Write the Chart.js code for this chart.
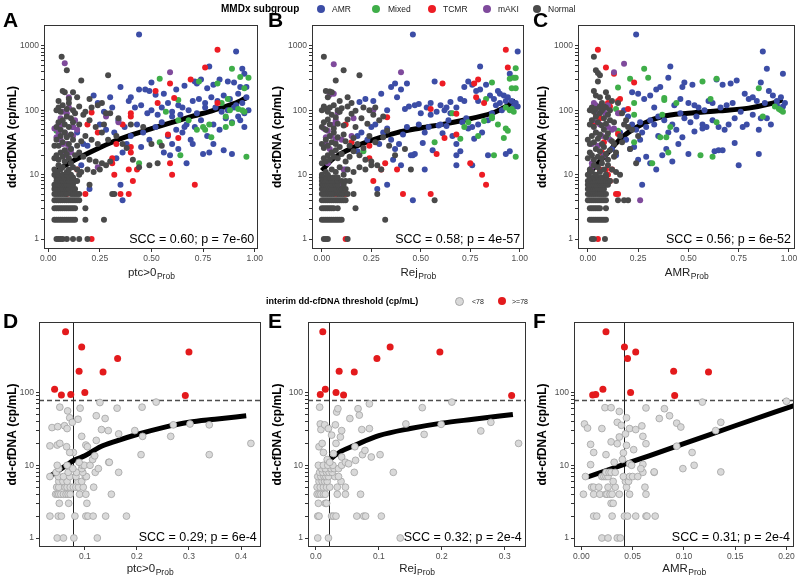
<!DOCTYPE html>
<html>
<head>
<meta charset="utf-8">
<script src="https://cdn.jsdelivr.net/npm/chart.js@4.4.1/dist/chart.umd.min.js"></script>
<style>
  body { margin: 0; background: #fff; width: 800px; height: 575px; position: relative; overflow: hidden;
         font-family: "Liberation Sans", Arial, sans-serif; }
  canvas { position: absolute; }
  .lg { position: absolute; white-space: nowrap; color: #222; line-height: 1; }
  .dot { position: absolute; width: 8px; height: 8px; border-radius: 50%; }
</style>
</head>
<body>
<canvas id="cA" width="265" height="290" style="left:0;top:0"></canvas>
<canvas id="cB" width="265" height="290" style="left:265px;top:0"></canvas>
<canvas id="cC" width="270" height="290" style="left:530px;top:0"></canvas>
<canvas id="cD" width="265" height="285" style="left:0;top:290px"></canvas>
<canvas id="cE" width="265" height="285" style="left:265px;top:290px"></canvas>
<canvas id="cF" width="270" height="285" style="left:530px;top:290px"></canvas>

<!-- top legend -->
<div class="lg" style="left:221px;top:4px;font-weight:bold;font-size:10px;color:#000">MMDx subgroup</div>
<div class="dot" style="left:317px;top:5px;background:#3c4da6"></div><div class="lg" style="left:332px;top:5px;font-size:8.5px">AMR</div>
<div class="dot" style="left:372px;top:5px;background:#3fae49"></div><div class="lg" style="left:388px;top:5px;font-size:8.5px">Mixed</div>
<div class="dot" style="left:428px;top:5px;background:#ed1c24"></div><div class="lg" style="left:443px;top:5px;font-size:8.5px">TCMR</div>
<div class="dot" style="left:483px;top:5px;background:#7f4a9c"></div><div class="lg" style="left:498px;top:5px;font-size:8.5px">mAKI</div>
<div class="dot" style="left:533px;top:5px;background:#4a4a4a"></div><div class="lg" style="left:548px;top:5px;font-size:8.5px">Normal</div>

<!-- bottom legend -->
<div class="lg" style="left:266px;top:297px;font-weight:bold;font-size:9px;color:#000">interim dd-cfDNA threshold (cp/mL)</div>
<div class="dot" style="left:455px;top:297px;background:#d9d9d9;border:1px solid #a6a6a6;width:7px;height:7px"></div><div class="lg" style="left:472px;top:298px;font-size:7px">&lt;78</div>
<div class="dot" style="left:498px;top:297px;background:#e31a1c"></div><div class="lg" style="left:512px;top:298px;font-size:7px">&gt;=78</div>

<script>
// ---- tick labels ----
const xTicksTop = [0, 0.25, 0.5, 0.75, 1];
const xTicksD = [0.1, 0.2, 0.3, 0.4];
const xTicksE = [0, 0.1, 0.2, 0.3];
const xTicksF = [0, 0.05, 0.1, 0.15, 0.2];
const yTicksTop = [1, 10, 100, 1000];
const yTicksBottom = [1, 10, 100];

// ---- thresholds ----
const threshold = 78;
const cutD = 0.0776;
const cutE = 0.021;
const cutF = 0.042;

// ---- A: ptc>0 Prob ----
const aNormal = [
  [0.04,1],[0.05,1],[0.06,1],[0.07,1],[0.09,1],[0.12,1],[0.15,1],[0.19,1],
  [0.03,2],[0.04,2],[0.05,2],[0.06,2],[0.07,2],[0.08,2],[0.09,2],[0.10,2],[0.11,2],[0.12,2],[0.13,2],[0.18,2],[0.27,2],
  [0.03,3],[0.04,3],[0.05,3],[0.06,3],[0.07,3],[0.08,3],[0.09,3],[0.10,3],[0.11,3],[0.12,3],[0.13,3],[0.18,3],
  [0.03,4],[0.04,4],[0.05,4],[0.06,4],[0.07,4],[0.08,4],[0.09,4],[0.10,4],[0.11,4],[0.12,4],[0.13,4],[0.14,4],[0.15,4],
  [0.03,5],[0.04,5],[0.05,5],[0.06,5],[0.07,5],[0.08,5],[0.09,5],[0.11,5],[0.12,5],[0.13,5],[0.14,5],[0.15,5],[0.31,5],[0.32,5],
  [0.03,6],[0.04,6],[0.05,6],[0.06,6],[0.07,6],[0.08,6],[0.09,6],[0.10,6],[0.11,6],[0.12,6],[0.13,6],
  [0.03,7],[0.04,7],[0.05,7],[0.06,7],[0.07,7],[0.08,7],[0.09,7],[0.10,7],[0.12,7],[0.20,7],
  [0.04,8],[0.05,8],[0.06,8],[0.07,8],[0.08,8],[0.09,8],[0.10,8],[0.11,8],[0.13,8],[0.14,8],
  [0.04,9],[0.05,9],[0.06,9],[0.08,9],[0.10,9],[0.12,9],
  [0.03,10],[0.05,10],[0.07,10],[0.09,10],[0.11,10],[0.15,10],
  [0.03,12],[0.04,11],[0.05,14],[0.06,12],[0.07,13],[0.08,16],[0.09,11],[0.10,12],[0.11,15],[0.12,13],[0.14,12],[0.16,11],[0.19,12],[0.22,11],[0.25,12],
  [0.03,18],[0.04,20],[0.05,17],[0.06,22],[0.07,19],[0.08,24],[0.09,21],[0.10,18],[0.11,25],[0.13,20],[0.15,22],[0.17,19],[0.20,17],[0.23,16],[0.26,15],[0.28,14],[0.30,16],
  [0.03,28],[0.04,35],[0.05,28],[0.06,40],[0.07,32],[0.08,45],[0.09,38],[0.10,30],[0.11,42],[0.12,35],[0.14,28],[0.16,33],[0.18,40],[0.21,35],[0.24,30],[0.26,45],[0.29,35],[0.33,40],[0.36,30],[0.38,26],[0.41,17],[0.44,13],[0.49,14],[0.53,15],
  [0.04,55],[0.05,65],[0.06,50],[0.07,70],[0.08,60],[0.09,80],[0.10,55],[0.11,75],[0.12,65],[0.13,90],[0.15,60],[0.17,85],[0.20,70],[0.23,55],[0.27,60],[0.30,90],[0.34,75],[0.40,60],[0.46,55],[0.50,30],[0.55,28],
  [0.04,100],[0.05,110],[0.06,95],[0.07,120],[0.09,105],[0.10,130],[0.12,100],[0.15,115],[0.18,95],[0.21,110],[0.24,120],[0.28,90],
  [0.065,680],[0.09,420],[0.16,290],[0.29,350],[0.07,200],[0.08,190],[0.12,190],[0.14,160],[0.10,150],[0.05,140],[0.20,150],[0.26,130]
];
const aMAKI = [[0.08,540],[0.59,390],[0.10,160],[0.10,110],[0.07,95],[0.09,90],[0.06,75],[0.03,52],[0.05,60],[0.08,45],[0.09,40],[0.12,55],[0.06,35],[0.07,30],[0.10,25],[0.08,20],[0.11,22],[0.11,7],[0.09,30],[0.28,80],[0.34,65],[0.24,13],[0.14,50],[0.12,40],[0.05,45],[0.07,60],[0.04,38],[0.13,70]];
const aTCMR = [[0.82,870],[0.76,460],[0.69,300],[0.59,260],[0.52,200],[0.53,130],[0.61,155],[0.82,130],[0.40,90],[0.40,80],[0.36,60],[0.33,30],[0.31,18],[0.31,15],[0.32,10],[0.40,27],[0.40,22],[0.39,12],[0.41,8],[0.43,12],[0.58,42],[0.63,37],[0.59,15],[0.60,10],[0.71,7],[0.35,5],[0.39,5],[0.18,5],[0.09,5],[0.21,1],[0.19,60],[0.21,92],[0.24,45],[0.14,12]];
const aMixed = [[0.89,440],[0.93,330],[0.97,320],[0.54,310],[0.73,280],[0.82,260],[0.95,220],[0.63,145],[0.57,95],[0.68,70],[0.72,50],[0.75,55],[0.78,60],[0.79,38],[0.86,80],[0.86,55],[0.88,100],[0.92,105],[0.94,100],[0.95,95],[0.89,63],[0.64,20],[0.44,15],[0.54,32],[0.96,19],[0.84,130],[0.87,150],[0.04,48],[0.63,70],[0.76,50]];
const aAMR = [[0.44,1500],[0.91,820],[0.78,480],[0.94,440],[0.95,370],[0.50,270],[0.47,210],[0.49,200],[0.52,175],[0.66,240],[0.71,280],[0.72,260],[0.74,300],[0.77,220],[0.80,250],[0.83,300],[0.87,280],[0.90,270],[0.93,230],[0.35,230],[0.30,160],[0.22,170],[0.24,130],[0.39,140],[0.42,110],[0.45,120],[0.48,90],[0.50,100],[0.55,110],[0.58,130],[0.60,95],[0.63,120],[0.65,110],[0.68,100],[0.70,140],[0.73,150],[0.76,130],[0.79,160],[0.82,140],[0.85,170],[0.88,150],[0.91,120],[0.94,130],[0.96,160],
  [0.25,60],[0.28,50],[0.32,45],[0.34,70],[0.37,55],[0.40,40],[0.43,60],[0.46,45],[0.49,35],[0.52,55],[0.55,65],[0.58,40],[0.60,30],[0.62,50],[0.65,45],[0.67,60],[0.69,35],[0.71,55],[0.74,70],[0.77,40],[0.80,60],[0.83,50],[0.86,75],[0.89,65],[0.92,80],[0.95,90],[0.97,100],
  [0.56,22],[0.59,20],[0.63,25],[0.67,15],[0.75,21],[0.78,22],[0.85,24],[0.89,21],[0.80,30],[0.70,30],[0.45,27],[0.38,30],[0.36,22],[0.33,18],[0.20,6],[0.35,7],[0.36,4],
  [0.60,80],[0.64,85],[0.72,90],[0.76,110],[0.84,95],[0.87,100],[0.90,110],[0.93,70],[0.95,55],[0.19,28],[0.17,30],[0.14,45],[0.12,55],[0.11,25],[0.16,14],[0.27,95],[0.31,110],[0.44,210],[0.56,180],[0.62,210],[0.40,160],[0.53,85],[0.66,55],[0.81,110],[0.92,180],[0.96,230]];
const trendA = [[0.03,11],[0.1,15],[0.2,22],[0.3,31],[0.4,41],[0.5,52],[0.6,65],[0.7,81],[0.8,100],[0.9,127],[0.965,160]];

// ---- B: Rej Prob ----
const bNormal = [
  [0.01,1],[0.02,1],[0.03,1],[0.13,1],
  [0.00,2],[0.01,2],[0.02,2],[0.03,2],[0.04,2],[0.05,2],[0.06,2],[0.07,2],[0.08,2],[0.09,2],[0.10,2],[0.32,2],
  [0.00,3],[0.01,3],[0.02,3],[0.03,3],[0.04,3],[0.05,3],[0.06,3],[0.08,3],[0.17,3],
  [0.00,4],[0.01,4],[0.02,4],[0.03,4],[0.04,4],[0.05,4],[0.06,4],[0.07,4],[0.08,4],[0.09,4],[0.10,4],[0.11,4],[0.12,4],[0.57,4],
  [0.00,5],[0.01,5],[0.02,5],[0.03,5],[0.04,5],[0.05,5],[0.06,5],[0.08,5],[0.09,5],[0.10,5],[0.11,5],[0.13,5],[0.16,5],[0.28,5],
  [0.00,6],[0.01,6],[0.02,6],[0.03,6],[0.04,6],[0.05,6],[0.06,6],[0.07,6],[0.09,6],[0.10,6],[0.12,6],
  [0.00,7],[0.01,7],[0.02,7],[0.03,7],[0.04,7],[0.05,7],[0.07,7],[0.08,7],[0.11,7],
  [0.00,8],[0.01,8],[0.02,8],[0.03,8],[0.05,8],[0.06,8],[0.08,8],[0.10,8],[0.12,8],[0.14,8],
  [0.00,9],[0.02,9],[0.04,9],[0.06,9],[0.08,9],
  [0.00,10],[0.02,11],[0.03,10],[0.05,12],[0.07,11],[0.09,13],[0.11,10],[0.13,12],[0.16,11],[0.19,13],[0.22,12],[0.25,14],
  [0.00,15],[0.01,18],[0.02,16],[0.03,20],[0.04,17],[0.05,22],[0.06,19],[0.07,24],[0.08,18],[0.10,21],[0.12,16],[0.14,19],[0.16,23],[0.19,20],[0.22,17],[0.25,16],[0.28,14],[0.30,12],
  [0.00,30],[0.01,26],[0.02,35],[0.03,28],[0.04,40],[0.05,32],[0.06,45],[0.07,30],[0.08,38],[0.09,27],[0.11,42],[0.12,33],[0.14,28],[0.16,37],[0.18,30],[0.21,26],[0.24,40],[0.27,32],[0.31,38],[0.34,28],[0.37,20],[0.42,25],[0.45,12],
  [0.00,55],[0.01,65],[0.02,50],[0.03,72],[0.04,60],[0.05,85],[0.06,52],[0.07,78],[0.08,62],[0.09,95],[0.11,58],[0.13,72],[0.15,88],[0.17,55],[0.20,75],[0.23,62],[0.26,85],[0.29,70],[0.33,48],
  [0.00,100],[0.01,115],[0.02,105],[0.03,95],[0.04,110],[0.06,120],[0.08,100],[0.10,108],[0.13,115],[0.17,98],[0.21,110],[0.24,100],
  [0.01,680],[0.11,420],[0.19,350],[0.07,290],[0.02,200],[0.04,195],[0.05,190],[0.13,160],[0.09,140],[0.03,160],[0.27,110],[0.31,80],[0.15,130]
];
const bMAKI = [[0.06,520],[0.40,390],[0.04,175],[0.06,180],[0.08,92],[0.16,75],[0.26,100],[0.01,52],[0.03,48],[0.05,40],[0.06,60],[0.07,35],[0.02,30],[0.04,25],[0.05,22],[0.09,7],[0.10,35],[0.03,15],[0.11,12],[0.15,40],[0.07,70],[0.02,38]];
const bTCMR = [[0.93,870],[0.94,460],[0.79,300],[0.77,260],[0.61,260],[0.55,105],[0.82,130],[0.33,78],[0.24,28],[0.24,18],[0.32,15],[0.30,12],[0.38,12],[0.26,8],[0.41,5],[0.55,5],[0.07,5],[0.12,5],[0.12,1],[0.58,21],[0.62,37],[0.68,42],[0.75,15],[0.81,10],[0.83,7],[0.68,88],[0.12,60],[0.15,32],[0.78,160]];
const bMixed = [[0.98,450],[0.97,320],[0.95,310],[0.98,320],[0.96,220],[0.98,220],[0.86,270],[0.83,150],[0.66,90],[0.57,32],[0.70,36],[0.74,65],[0.79,40],[0.82,68],[0.86,75],[0.86,80],[0.87,20],[0.92,37],[0.93,52],[0.94,48],[0.95,100],[0.96,105],[0.97,95],[0.98,19],[0.21,23],[0.89,60],[0.93,110],[0.72,55]];
const bAMR = [[0.46,1500],[0.99,820],[0.80,480],[0.95,370],[0.43,260],[0.57,280],[0.37,260],[0.35,230],[0.40,210],[0.30,180],[0.22,150],[0.19,135],[0.26,140],[0.38,160],[0.42,105],[0.44,115],[0.47,120],[0.50,90],[0.53,110],[0.55,130],[0.58,95],[0.60,120],[0.62,100],[0.65,135],[0.68,110],[0.70,150],[0.72,230],[0.74,280],[0.76,250],[0.78,200],[0.80,210],[0.83,250],[0.85,170],[0.87,150],[0.89,200],[0.90,180],[0.92,170],[0.94,160],[0.96,140],[0.98,130],[0.99,115],
  [0.18,40],[0.20,45],[0.23,35],[0.25,55],[0.27,60],[0.29,30],[0.31,45],[0.33,52],[0.35,35],[0.37,25],[0.39,30],[0.41,42],[0.43,55],[0.45,20],[0.47,21],[0.49,60],[0.51,31],[0.52,45],[0.54,55],[0.56,24],[0.59,58],[0.61,44],[0.63,57],[0.64,70],[0.66,40],[0.68,30],[0.70,23],[0.71,65],[0.73,75],[0.74,52],[0.76,55],[0.77,36],[0.79,60],[0.81,45],[0.84,70],[0.86,90],[0.88,120],[0.91,100],[0.93,21],[0.95,23],[0.97,115],
  [0.68,14],[0.76,14],[0.84,20],[0.68,20],[0.52,12],[0.46,4],[0.33,7],[0.28,6],[0.46,20],[0.40,14],[0.36,17],[0.12,12],[0.18,23],[0.33,100],[0.49,125],[0.55,85],[0.63,110],[0.72,140],[0.79,140],[0.93,140],[0.90,130],[0.60,60],[0.65,90]];
const trendB = [[0.0,11.5],[0.05,17],[0.13,24],[0.25,34],[0.38,45],[0.5,53],[0.63,62],[0.75,74],[0.88,95],[0.98,140]];

// ---- C: AMR Prob ----
const cNormal = [
  [0.02,1],[0.03,1],[0.085,1],
  [0.01,2],[0.02,2],[0.03,2],[0.04,2],[0.05,2],[0.06,2],[0.07,2],[0.08,2],[0.09,2],
  [0.01,3],[0.02,3],[0.03,3],[0.04,3],[0.05,3],[0.06,3],[0.09,3],
  [0.00,4],[0.01,4],[0.02,4],[0.03,4],[0.04,4],[0.05,4],[0.06,4],[0.07,4],[0.08,4],[0.09,4],[0.15,4],[0.18,4],[0.20,4],
  [0.00,5],[0.01,5],[0.02,5],[0.03,5],[0.04,5],[0.05,5],[0.06,5],[0.07,5],[0.08,5],[0.09,5],
  [0.00,6],[0.01,6],[0.02,6],[0.03,6],[0.04,6],[0.05,6],[0.06,6],[0.07,6],[0.08,6],
  [0.00,7],[0.01,7],[0.02,7],[0.03,7],[0.04,7],[0.05,7],[0.06,7],[0.07,7],[0.08,7],[0.09,7],[0.10,7],
  [0.00,8],[0.01,8],[0.02,8],[0.03,8],[0.04,8],[0.05,8],[0.06,8],[0.07,8],[0.08,8],[0.09,8],[0.10,8],[0.11,8],[0.14,8],
  [0.01,9],[0.03,9],[0.05,9],[0.07,9],[0.09,9],
  [0.00,10],[0.01,12],[0.02,11],[0.03,14],[0.04,10],[0.05,13],[0.06,11],[0.07,15],[0.08,12],[0.09,10],[0.10,14],[0.12,12],[0.14,11],[0.16,10],
  [0.00,18],[0.01,22],[0.02,20],[0.03,17],[0.04,25],[0.05,19],[0.06,23],[0.07,18],[0.08,27],[0.09,21],[0.10,17],[0.11,24],[0.13,19],
  [0.00,35],[0.01,30],[0.02,40],[0.03,32],[0.04,45],[0.05,36],[0.06,42],[0.07,30],[0.08,50],[0.09,38],[0.10,44],[0.12,33],
  [0.01,60],[0.02,70],[0.03,55],[0.04,80],[0.05,65],[0.06,90],[0.07,58],[0.08,75],[0.09,62],[0.10,85],[0.11,70],[0.13,65],
  [0.01,100],[0.02,110],[0.03,95],[0.04,105],[0.06,115],[0.07,100],[0.09,110],[0.11,100],
  [0.03,680],[0.04,420],[0.05,380],[0.06,350],[0.05,280],[0.09,190],[0.03,200],[0.04,170],[0.06,160],[0.10,160],[0.12,140],[0.15,130],[0.07,130],[0.08,115],[0.17,90],[0.19,70],[0.20,55],[0.16,40],[0.22,50],[0.24,15],[0.21,25],[0.14,22],[0.13,30],[0.18,60],[0.17,32],[0.25,40]
];
const cMAKI = [[0.18,530],[0.13,390],[0.03,130],[0.04,120],[0.06,110],[0.07,100],[0.05,90],[0.08,95],[0.09,85],[0.03,70],[0.06,60],[0.10,55],[0.12,50],[0.04,45],[0.07,40],[0.11,35],[0.02,30],[0.05,28],[0.08,20],[0.06,7],[0.02,13],[0.13,52],[0.10,120],[0.15,90],[0.26,4],[0.02,15]];
const cTCMR = [[0.05,870],[0.09,460],[0.13,370],[0.10,130],[0.23,270],[0.11,115],[0.15,140],[0.16,150],[0.16,90],[0.04,90],[0.05,80],[0.06,75],[0.03,62],[0.15,43],[0.08,32],[0.07,22],[0.09,12],[0.12,12],[0.10,10],[0.11,8],[0.14,5],[0.15,5],[0.06,12],[0.05,1],[0.20,105],[0.07,7]];
const cMixed = [[0.28,440],[0.30,320],[0.21,310],[0.15,225],[0.57,280],[0.64,310],[0.38,155],[0.38,145],[0.23,130],[0.14,105],[0.23,85],[0.37,85],[0.44,130],[0.61,150],[0.85,220],[0.87,80],[0.95,105],[0.96,100],[0.97,95],[0.10,38],[0.15,48],[0.23,32],[0.36,38],[0.39,38],[0.32,15],[0.40,22],[0.56,20],[0.62,19],[0.64,65],[0.41,55],[0.93,115]];
const cAMR = [[0.24,1500],[0.87,820],[0.41,480],[0.97,370],[0.89,440],[0.86,270],[0.74,290],[0.64,300],[0.71,260],[0.67,250],[0.52,250],[0.47,230],[0.48,270],[0.36,230],[0.34,210],[0.40,320],[0.22,190],[0.25,180],[0.28,150],[0.31,170],[0.33,110],[0.43,120],[0.46,150],[0.50,130],[0.53,120],[0.55,110],[0.58,100],[0.60,140],[0.62,130],[0.66,110],[0.69,120],[0.72,130],[0.76,95],[0.78,180],[0.80,150],[0.82,160],[0.84,140],[0.88,130],[0.90,200],[0.92,170],[0.94,140],[0.96,160],[0.98,130],
  [0.18,100],[0.20,80],[0.22,60],[0.24,50],[0.26,65],[0.27,45],[0.29,55],[0.31,70],[0.33,60],[0.35,80],[0.38,70],[0.40,45],[0.42,60],[0.44,50],[0.46,90],[0.48,75],[0.51,65],[0.54,80],[0.57,60],[0.59,55],[0.62,70],[0.65,55],[0.68,50],[0.70,60],[0.73,75],[0.77,55],[0.79,60],[0.82,85],[0.85,50],[0.86,75],[0.89,75],[0.91,60],[0.94,120],[0.97,115],
  [0.19,35],[0.21,25],[0.23,27],[0.25,17],[0.27,7],[0.29,19],[0.31,15],[0.34,12],[0.37,20],[0.39,25],[0.42,16],[0.45,30],[0.47,38],[0.50,21],[0.53,47],[0.57,52],[0.63,23],[0.65,24],[0.67,24],[0.73,31],[0.75,14],[0.85,21],[0.12,25],[0.14,20],[0.16,45],[0.35,40],[0.26,35]];
const trendC = [[0.005,10.5],[0.05,15],[0.1,22],[0.15,33],[0.2,45],[0.28,63],[0.37,80],[0.5,90],[0.65,98],[0.8,108],[0.9,125],[0.97,145]];

// ---- D: ptc>0 Prob (interim cohort) ----
const dLow = [
  [0.047,1],[0.059,1],[0.079,1],[0.124,1],
  [0.033,2],[0.049,2],[0.055,2],[0.081,2],[0.102,2],[0.106,2],[0.116,2],[0.140,2],[0.180,2],
  [0.051,3],[0.069,3],[0.104,3],
  [0.044,4],[0.047,4],[0.050,4],[0.054,4],[0.059,4],[0.064,4],[0.068,4],[0.072,4],[0.090,4],[0.102,4],[0.151,4],
  [0.046,5],[0.050,5],[0.062,5],[0.066,5],[0.072,5],[0.078,5],[0.083,5],[0.088,5],[0.097,5],[0.117,5],
  [0.050,6],[0.058,6],[0.066,6],[0.087,6],[0.094,6],
  [0.033,7],[0.049,7],[0.059,7],[0.071,7],[0.083,7],[0.101,7],[0.103,7],
  [0.045,8],[0.068,8],[0.084,8],[0.096,8],[0.120,8],[0.165,8],
  [0.050,9],[0.077,9],[0.094,9],[0.126,9],
  [0.047,10],[0.066,10],[0.095,10],[0.099,10],
  [0.146,11],[0.110,10],[0.115,12],[0.119,13.5],[0.089,11],[0.078,15],[0.065,18],[0.071,15],
  [0.033,18.5],[0.047,19],[0.052,20],[0.037,33],[0.048,34],[0.061,35],[0.066,32],[0.071,45],[0.076,39],[0.087,43],[0.091,61],[0.067,56],[0.052,63],
  [0.094,25],[0.102,19],[0.105,18],[0.122,22],[0.122,48],[0.129,73],[0.139,44],[0.132,31],[0.145,30],[0.147,11],[0.165,27],[0.162,61],
  [0.196,30],[0.210,63],[0.211,25],[0.208,14],[0.237,74],[0.265,25],[0.270,36],[0.302,37],[0.339,14],[0.339,36],[0.419,20]
];
const dHigh = [[0.063,684],[0.094,425],[0.163,294],[0.300,363],[0.089,196],[0.135,192],[0.042,111],[0.055,93],[0.073,94],[0.100,100],[0.293,91]];
const trendD = [[0.035,7.2],[0.06,9.5],[0.08,11.8],[0.1,13.5],[0.13,18],[0.16,21.5],[0.2,26.5],[0.25,33],[0.3,39],[0.35,43],[0.41,48]];

// ---- E: Rej Prob (interim cohort) ----
const eLow = [
  [0.003,1],[0.020,1],[0.134,1],
  [0.003,2],[0.005,2],[0.025,2],[0.028,2],[0.032,2],[0.065,2],[0.076,2],[0.079,2],[0.104,2],
  [0.004,3],[0.015,3],[0.017,3],
  [0.002,4],[0.005,4],[0.008,4],[0.012,4],[0.015,4],[0.034,4],[0.047,4],[0.071,4],
  [0.002,5],[0.007,5],[0.012,5],[0.017,5],[0.022,5],[0.034,5],[0.047,5],
  [0.005,6],[0.010,6],[0.014,6],[0.018,6],[0.040,6],
  [0.003,7],[0.008,7],[0.013,7],[0.016,7],[0.020,7],[0.030,7],[0.036,7],
  [0.006,8],[0.011,8],[0.017,8],[0.021,8],[0.026,8],[0.061,8],[0.123,8],
  [0.009,9],[0.015,9],[0.024,9],[0.029,9],[0.036,9],
  [0.004,10],[0.012,10],[0.019,10],[0.027,10],[0.041,10],
  [0.006,63],[0.007,37],[0.008,31],[0.014,36],[0.020,32],[0.025,26],[0.028,14.5],[0.031,36],[0.032,20],[0.033,54],[0.035,60],[0.039,24.5],[0.041,30],
  [0.054,44],[0.067,60],[0.069,49],[0.073,31],[0.085,70],[0.085,32],[0.062,18],[0.074,14],[0.078,16],[0.088,13],[0.102,14],
  [0.143,37],[0.169,62],[0.172,26.6],[0.199,36.6],[0.216,74],[0.262,29.7],[0.278,39],[0.322,20],
  [0.041,13],[0.047,11],[0.052,10.5],[0.063,11.7],[0.005,18],[0.010,20],[0.012,15],[0.018,12],[0.022,11]
];
const eHigh = [[0.011,684],[0.037,196],[0.061,192],[0.097,294],[0.118,425],[0.197,363],[0.007,94],[0.015,111],[0.032,100],[0.044,93],[0.311,91]];
const trendE = [[0.008,8],[0.015,10],[0.025,12.5],[0.04,15.5],[0.06,18.5],[0.1,25.5],[0.15,32],[0.2,38],[0.25,43],[0.313,50]];

// ---- F: AMR Prob (interim cohort) ----
const fLow = [
  [0.020,1],[0.026,1],[0.035,1],[0.038,1],
  [0.012,2],[0.015,2],[0.030,2],[0.042,2],[0.045,2],[0.053,2],[0.063,2],[0.064,2],[0.072,2],
  [0.029,3],[0.031,3],
  [0.002,4],[0.012,4],[0.018,4],[0.024,4],[0.025,4],[0.028,4],[0.030,4],[0.037,4],[0.047,4],[0.063,4],
  [0.010,5],[0.012,5],[0.017,5],[0.026,5],[0.033,5],[0.044,5],[0.062,5],
  [0.031,6],[0.043,6],[0.046,6],
  [0.004,7],[0.020,7],[0.022,7],[0.024,7],[0.026,7],[0.041,7],[0.047,7],[0.050,7],
  [0.024,8],[0.027,8],[0.029,8],[0.033,8],[0.060,8],[0.071,8],
  [0.003,37],[0.006,32.5],[0.009,19.4],[0.012,15],[0.009,10.2],[0.020,32],[0.023,62],[0.024,14],[0.029,62],[0.029,21],[0.035,19.8],[0.035,39],[0.037,55],
  [0.037,24.5],[0.039,35.5],[0.041,14.8],[0.043,27],[0.044,45],[0.047,32],[0.053,31],[0.044,18.8],[0.047,10.5],[0.049,10],[0.051,16.4],[0.059,34.8],[0.060,25],
  [0.063,61.5],[0.063,19.8],[0.060,10.3],[0.071,8.1],[0.076,44],[0.081,60],[0.086,48],[0.093,38],[0.097,33.6],[0.093,18.3],[0.099,9],[0.110,10],[0.118,74],
  [0.108,15],[0.131,30],[0.136,39],[0.136,8.1],[0.200,76],[0.040,12],[0.032,11],[0.055,7],[0.058,9]
];
const fHigh = [[0.024,684],[0.042,425],[0.045,294],[0.053,363],[0.090,196],[0.124,192],[0.011,93],[0.014,94],[0.021,111],[0.048,100],[0.091,91]];
const trendF = [[0.006,6.9],[0.05,11.3],[0.1,19.8],[0.15,35],[0.21,68]];

// ---- styles ----
const FONT = '"Liberation Sans", Arial, sans-serif';
const colAMR = '#3c4da6', colMixed = '#3fae49', colTCMR = '#ed1c24', colMAKI = '#7f4a9c', colNormal = '#4a4a4a';

// log tick marks 1..9 x 10^k, labels only on the listed powers
function logTickValues(labels) {
  const out = [];
  for (let i = 0; i < labels.length; i++) {
    const base = labels[i];
    out.push(base);
    if (i < labels.length - 1) for (let m = 2; m <= 9; m++) out.push(base * m);
  }
  return out;
}

const decor = {
  id: 'decor',
  beforeDatasetsDraw(chart, args, o) {
    if (o.cut == null) return;
    const { ctx, chartArea: a, scales: { x, y } } = chart;
    ctx.save();
    ctx.strokeStyle = '#4d4d4d';
    ctx.lineWidth = 1.3;
    ctx.setLineDash([5, 3]);
    const py = Math.round(y.getPixelForValue(threshold)) + 0.5;
    ctx.beginPath(); ctx.moveTo(a.left, py); ctx.lineTo(a.right, py); ctx.stroke();
    ctx.setLineDash([]);
    ctx.strokeStyle = '#222';
    ctx.lineWidth = 1;
    const px = Math.round(x.getPixelForValue(o.cut)) + 0.5;
    ctx.beginPath(); ctx.moveTo(px, a.top); ctx.lineTo(px, a.bottom); ctx.stroke();
    ctx.restore();
  },
  afterDraw(chart, args, o) {
    const { ctx, chartArea: a } = chart;
    ctx.save();
    ctx.strokeStyle = '#333';
    ctx.lineWidth = 1;
    ctx.strokeRect(Math.round(a.left) + 0.5, Math.round(a.top) + 0.5,
                   Math.round(a.right - a.left) - 1, Math.round(a.bottom - a.top) - 1);
    ctx.fillStyle = '#000';
    ctx.font = '12.5px ' + FONT;
    ctx.textAlign = 'right';
    ctx.textBaseline = 'middle';
    ctx.fillText(o.scc, a.right - 4, a.bottom - 9);

    // x title with subscript
    ctx.textAlign = 'left';
    ctx.textBaseline = 'alphabetic';
    ctx.font = '11.5px ' + FONT;
    const w1 = ctx.measureText(o.xMain).width;
    ctx.font = '8.5px ' + FONT;
    const w2 = ctx.measureText(o.xSub).width;
    const sx = (a.left + a.right) / 2 - (w1 + w2) / 2;
    const ty = a.bottom + o.titleGap;
    ctx.fillStyle = '#222';
    ctx.font = '11.5px ' + FONT;
    ctx.fillText(o.xMain, sx, ty);
    ctx.font = '8.5px ' + FONT;
    ctx.fillText(o.xSub, sx + w1 + 0.5, ty + 3);

    // panel letter
    ctx.fillStyle = '#000';
    ctx.font = 'bold 21px ' + FONT;
    ctx.fillText(o.letter, 3, o.letterY);
    ctx.restore();
  }
};

function pts(arr) { return arr.map(p => ({ x: p[0], y: p[1] })); }

function makePanel(id, o) {
  const datasets = o.groups.map(g => ({
    data: pts(g.data),
    backgroundColor: g.fill,
    borderColor: g.stroke || g.fill,
    borderWidth: g.bw || 0,
    pointRadius: g.r,
    pointHoverRadius: g.r
  }));
  datasets.push({
    data: pts(o.trend),
    showLine: true,
    pointRadius: 0,
    borderColor: '#000',
    borderWidth: 5,
    cubicInterpolationMode: 'monotone',
    borderCapStyle: 'butt'
  });
  new Chart(document.getElementById(id), {
    type: 'scatter',
    data: { datasets },
    options: {
      responsive: false,
      animation: false,
      events: [],
      layout: { padding: { top: o.padTop, right: o.padRight, bottom: 0, left: 0 } },
      plugins: {
        legend: { display: false },
        tooltip: { enabled: false },
        decor: o.decor
      },
      scales: {
        x: {
          type: 'linear',
          min: o.xMin, max: o.xMax,
          afterBuildTicks: s => { s.ticks = o.xTicks.map(v => ({ value: v })); },
          afterFit: s => { s.height = o.xAxisH; },
          ticks: {
            autoSkip: false, maxRotation: 0, padding: 2,
            color: '#4d4d4d', font: { family: FONT, size: 8.5 },
            callback: v => v.toFixed(o.xDec)
          },
          grid: { drawOnChartArea: false, tickLength: 3, color: '#333' },
          border: { display: false }
        },
        y: {
          type: 'logarithmic',
          min: o.yMin, max: o.yMax,
          afterBuildTicks: s => { s.ticks = logTickValues(o.yTicks).map(v => ({ value: v })); },
          afterFit: s => { s.width = o.yAxisW; },
          ticks: {
            autoSkip: false, padding: 2,
            color: '#4d4d4d', font: { family: FONT, size: 8.5 },
            callback: v => o.yTicks.includes(v) ? String(v) : ''
          },
          grid: { drawOnChartArea: false, tickLength: 3, color: '#333' },
          border: { display: false },
          title: {
            display: true, text: 'dd-cfDNA (cp/mL)', color: '#000',
            font: { family: FONT, size: 12, weight: 'bold' },
            padding: { top: 5, bottom: 0 }
          }
        }
      }
    },
    plugins: [decor]
  });
}

function topGroups(normal, maki, tcmr, mixed, amr) {
  return [
    { data: normal, fill: colNormal, r: 3 },
    { data: maki, fill: colMAKI, r: 3 },
    { data: tcmr, fill: colTCMR, r: 3 },
    { data: mixed, fill: colMixed, r: 3 },
    { data: amr, fill: colAMR, r: 3 }
  ];
}
function bottomGroups(low, high) {
  return [
    { data: low, fill: '#d9d9d9', stroke: '#a3a3a3', bw: 0.8, r: 3.4 },
    { data: high, fill: '#e31a1c', r: 3.5 }
  ];
}

const topBase = { padTop: 25, xAxisH: 41, yMin: 0.726, yMax: 2113, yTicks: yTicksTop, xTicks: xTicksTop, xDec: 2 };
const botBase = { padTop: 32, xAxisH: 28, yMin: 0.752, yMax: 935, yTicks: yTicksBottom };

makePanel('cA', Object.assign({}, topBase, {
  yAxisW: 44, padRight: 3, xMin: -0.0205, xMax: 1.0176,
  groups: topGroups(aNormal, aMAKI, aTCMR, aMixed, aAMR), trend: trendA,
  decor: { letter: 'A', letterY: 27, scc: 'SCC = 0.60; p = 7e-60', xMain: 'ptc>0', xSub: 'Prob', titleGap: 27 }
}));
makePanel('cB', Object.assign({}, topBase, {
  yAxisW: 47, padRight: 2, xMin: -0.05, xMax: 1.023,
  groups: topGroups(bNormal, bMAKI, bTCMR, bMixed, bAMR), trend: trendB,
  decor: { letter: 'B', letterY: 27, scc: 'SCC = 0.58; p = 4e-57', xMain: 'Rej', xSub: 'Prob', titleGap: 27 }
}));
makePanel('cC', Object.assign({}, topBase, {
  yAxisW: 48, padRight: 5, xMin: -0.049, xMax: 1.03,
  groups: topGroups(cNormal, cMAKI, cTCMR, cMixed, cAMR), trend: trendC,
  decor: { letter: 'C', letterY: 27, scc: 'SCC = 0.56; p = 6e-52', xMain: 'AMR', xSub: 'Prob', titleGap: 27 }
}));
makePanel('cD', Object.assign({}, botBase, {
  yAxisW: 39, padRight: 4, xMin: 0.012, xMax: 0.438, xTicks: xTicksD, xDec: 1,
  groups: bottomGroups(dLow, dHigh), trend: trendD,
  decor: { letter: 'D', letterY: 38, scc: 'SCC = 0.29; p = 6e-4', xMain: 'ptc>0', xSub: 'Prob', titleGap: 25, cut: cutD }
}));
makePanel('cE', Object.assign({}, botBase, {
  yAxisW: 43, padRight: 1, xMin: -0.0125, xMax: 0.3335, xTicks: xTicksE, xDec: 1,
  groups: bottomGroups(eLow, eHigh), trend: trendE,
  decor: { letter: 'E', letterY: 38, scc: 'SCC = 0.32; p = 2e-4', xMain: 'Rej', xSub: 'Prob', titleGap: 25, cut: cutE }
}));
makePanel('cF', Object.assign({}, botBase, {
  yAxisW: 44, padRight: 6, xMin: -0.0072, xMax: 0.2074, xTicks: xTicksF, xDec: 2,
  groups: bottomGroups(fLow, fHigh), trend: trendF,
  decor: { letter: 'F', letterY: 38, scc: 'SCC = 0.31; p = 2e-4', xMain: 'AMR', xSub: 'Prob', titleGap: 25, cut: cutF }
}));
</script>
</body>
</html>
